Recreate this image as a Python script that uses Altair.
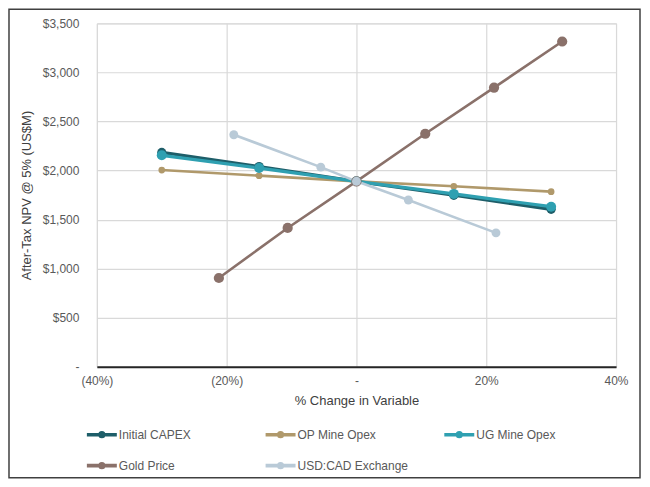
import altair as alt
import pandas as pd

series = ["Initial CAPEX", "OP Mine Opex", "UG Mine Opex", "Gold Price", "USD:CAD Exchange"]
colors = ["#1E5E69", "#B0996B", "#2FA0B1", "#8A716A", "#B9CAD7"]

capex_x = [-30, -15, 0, 15, 30]
capex_y = [2185, 2040, 1890, 1748, 1605]
op_x = [-30, -15, 0, 15, 30]
op_y = [2005, 1948, 1890, 1840, 1785]
ug_x = [-30, -15, 0, 15, 30]
ug_y = [2155, 2025, 1890, 1762, 1632]
gold_x = [-21.2, -10.6, 0, 10.6, 21.2, 31.7]
gold_y = [905, 1415, 1890, 2375, 2845, 3315]
usd_x = [-18.9, -5.5, 0, 8.0, 21.5]
usd_y = [2365, 2035, 1890, 1700, 1365]

x_ticks = [-40, -20, 0, 20, 40]
y_ticks = [0, 500, 1000, 1500, 2000, 2500, 3000, 3500]

# styles (kept separate from the data)
marker_size = {"Initial CAPEX": 85, "OP Mine Opex": 45, "UG Mine Opex": 100,
               "Gold Price": 105, "USD:CAD Exchange": 80}
line_width = {"Initial CAPEX": 3.2, "OP Mine Opex": 2.6, "UG Mine Opex": 3.2,
              "Gold Price": 2.6, "USD:CAD Exchange": 2.6}

rows = []
for name, xs, ys in zip(series, [capex_x, op_x, ug_x, gold_x, usd_x],
                        [capex_y, op_y, ug_y, gold_y, usd_y]):
    for i, (xv, yv) in enumerate(zip(xs, ys)):
        rows.append({"series": name, "order": series.index(name), "i": i,
                     "pct": xv, "npv": yv,
                     "ms": marker_size[name], "sw": line_width[name]})
df = pd.DataFrame(rows)

color_scale = alt.Scale(domain=series, range=colors)

xenc = alt.X("pct:Q", title="% Change in Variable",
             scale=alt.Scale(domain=[-40, 40], nice=False),
             axis=alt.Axis(values=x_ticks,
                           labelExpr="datum.value < 0 ? '(' + abs(datum.value) + '%)' : (datum.value == 0 ? '-' : datum.value + '%')",
                           grid=True, gridColor="#D9D9D9", gridWidth=1.2,
                           domain=True, domainColor="#262626", domainWidth=2,
                           ticks=False, labelPadding=9, labelFontSize=12,
                           labelFlush=False,
                           labelColor="#595959", titleColor="#404040",
                           titleFontSize=13, titleFontWeight="normal",
                           titlePadding=8, labelFont="Liberation Sans",
                           titleFont="Liberation Sans"))
yenc = alt.Y("npv:Q", title="After-Tax NPV @ 5% (US$M)",
             scale=alt.Scale(domain=[0, 3500], nice=False),
             axis=alt.Axis(values=y_ticks,
                           labelExpr="datum.value == 0 ? '-' : '$' + format(datum.value, ',')",
                           grid=True, gridColor="#D9D9D9", gridWidth=1.2,
                           domain=False, ticks=False, labelPadding=18,
                           labelFlush=False,
                           labelFontSize=12, labelColor="#595959",
                           titleColor="#404040", titleFontSize=13,
                           titleFontWeight="normal", titlePadding=9,
                           labelFont="Liberation Sans", titleFont="Liberation Sans"))

# stroked legend glyph: a line with a tiny thick-stroked ring (reads as a dot)
legend_path = ("M-1,0L1,0"
               "M-0.12,0A0.12,0.12,0,1,0,0.12,0A0.12,0.12,0,1,0,-0.12,0Z")

legend = alt.Legend(title=None, orient="none", legendX=-12, legendY=395,
                    direction="horizontal", columns=3, gridAlign="all",
                    columnPadding=28, rowPadding=5,
                    symbolType=legend_path, symbolSize=900, symbolStrokeWidth=3.6,
                    symbolFillColor="transparent",
                    labelFont="Liberation Sans", labelFontSize=12,
                    labelColor="#595959", labelOffset=0)

base = alt.Chart(df)

lines = base.mark_line().encode(
    x=xenc, y=yenc,
    color=alt.Color("series:N", scale=color_scale, legend=legend, sort=series),
    strokeWidth=alt.StrokeWidth("sw:Q", scale=None),
    order="i:Q",
)

points = base.mark_circle(opacity=1).encode(
    x="pct:Q", y="npv:Q",
    color=alt.Color("series:N", scale=color_scale, legend=legend, sort=series),
    size=alt.Size("ms:Q", scale=None),
    order="order:Q",
)

frame = alt.Chart(pd.DataFrame({"a": [0]})).mark_rect(
    fill="white", fillOpacity=0, stroke="#404040", strokeWidth=1.5
).encode(x=alt.value(-88), x2=alt.value(544), y=alt.value(-14), y2=alt.value(455))

chart = alt.layer(frame, lines, points).properties(
    width=520, height=344,
    autosize=alt.AutoSizeParams(type="none"),
    padding={"left": 89, "top": 15, "right": 26, "bottom": 113},
).configure_view(stroke=None).configure(background="white")

chart.save("out.html", embed_options={"renderer": "svg", "actions": False})
